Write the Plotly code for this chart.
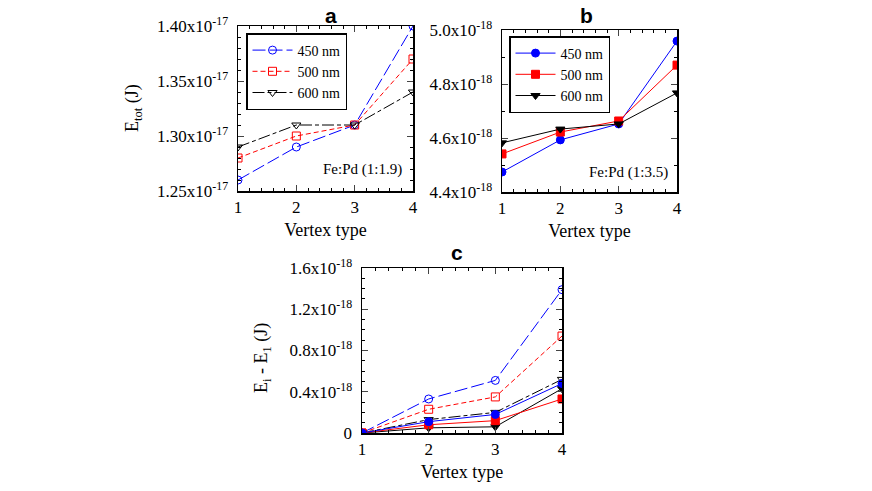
import plotly.graph_objects as go

vertex = [1, 2, 3, 4]
labels = ["450 nm", "500 nm", "600 nm"]

a_450 = [1.26e-17, 1.29e-17, 1.31e-17, 1.40e-17]
a_500 = [1.28e-17, 1.30e-17, 1.31e-17, 1.37e-17]
a_600 = [1.29e-17, 1.31e-17, 1.31e-17, 1.34e-17]

b_450 = [4.474e-18, 4.593e-18, 4.652e-18, 4.959e-18]
b_500 = [4.541e-18, 4.622e-18, 4.663e-18, 4.870e-18]
b_600 = [4.582e-18, 4.633e-18, 4.652e-18, 4.767e-18]

c_open_450 = [0, 0.33e-18, 0.51e-18, 1.39e-18]
c_open_500 = [0, 0.23e-18, 0.35e-18, 0.94e-18]
c_open_600 = [0, 0.13e-18, 0.20e-18, 0.52e-18]
c_fill_450 = [0, 0.11e-18, 0.18e-18, 0.48e-18]
c_fill_500 = [0, 0.08e-18, 0.12e-18, 0.33e-18]
c_fill_600 = [0, 0.05e-18, 0.06e-18, 0.43e-18]

a_ticks = [1.25e-17, 1.30e-17, 1.35e-17, 1.40e-17]
a_ticktext = ["1.25x10<sup>-17</sup>", "1.30x10<sup>-17</sup>", "1.35x10<sup>-17</sup>", "1.40x10<sup>-17</sup>"]
b_ticks = [4.4e-18, 4.6e-18, 4.8e-18, 5.0e-18]
b_ticktext = ["4.4x10<sup>-18</sup>", "4.6x10<sup>-18</sup>", "4.8x10<sup>-18</sup>", "5.0x10<sup>-18</sup>"]
c_ticks = [0, 0.4e-18, 0.8e-18, 1.2e-18, 1.6e-18]
c_ticktext = ["0", "0.4x10<sup>-18</sup>", "0.8x10<sup>-18</sup>", "1.2x10<sup>-18</sup>", "1.6x10<sup>-18</sup>"]

W, H = 872, 491
OFF = 0  # page body margin removed via post_script
SERIF = "Liberation Serif, Times New Roman, DejaVu Serif, serif"
SANS = "Liberation Sans, Arial, sans-serif"
BLUE, RED, BLACK = "#0000ff", "#ff0000", "#000000"
DASH_450 = "13px,4px"
DASH_500 = "5px,3px"
DASH_600 = "12px,3px,4px,3px"

def fx(p):
    return (p - OFF) / W

def fy(p):
    return 1 - (p - OFF) / H

def px_x(a, b):
    return [fx(a), fx(b)]

def px_y(top, bottom):
    return [fy(bottom), fy(top)]

fig = go.Figure()

def add(x, y, color, dash, symbol, name, xa, ya, legend=None, show=False, size=8):
    fig.add_trace(go.Scatter(
        x=x, y=y, mode="lines+markers", name=name,
        line=dict(color=color, width=1, dash=dash),
        marker=dict(symbol=symbol, size=size, color=color,
                    line=dict(color=color, width=1)),
        xaxis=xa, yaxis=ya, showlegend=show, legend=legend, cliponaxis=True))

# panel a (open markers, dashed)
add(vertex, a_450, BLUE, DASH_450, "circle-open", labels[0], "x", "y", "legend", True)
add(vertex, a_500, RED, DASH_500, "square-open", labels[1], "x", "y", "legend", True)
add(vertex, a_600, BLACK, DASH_600, "triangle-down-open", labels[2], "x", "y", "legend", True)
# panel b (filled, solid)
add(vertex, b_450, BLUE, "solid", "circle", labels[0], "x2", "y2", "legend2", True)
add(vertex, b_500, RED, "solid", "square", labels[1], "x2", "y2", "legend2", True)
add(vertex, b_600, BLACK, "solid", "triangle-down", labels[2], "x2", "y2", "legend2", True)
# panel c
add(vertex, c_open_450, BLUE, DASH_450, "circle-open", labels[0], "x3", "y3")
add(vertex, c_open_500, RED, DASH_500, "square-open", labels[1], "x3", "y3")
add(vertex, c_open_600, BLACK, DASH_600, "triangle-down-open", labels[2], "x3", "y3")
add(vertex, c_fill_600, BLACK, "solid", "triangle-down", labels[2], "x3", "y3")
add(vertex, c_fill_500, RED, "solid", "square", labels[1], "x3", "y3")
add(vertex, c_fill_450, BLUE, "solid", "circle", labels[0], "x3", "y3")

tickfont = dict(family=SERIF, size=17, color="black")

def xaxis(dom, anchor):
    return dict(domain=dom, anchor=anchor, range=[1, 4], tickvals=vertex,
                ticks="inside", ticklen=6, tickwidth=1, mirror="allticks",
                showline=True, linecolor="black", linewidth=1.5, showgrid=False,
                zeroline=False, tickfont=tickfont, automargin=False,
                minor=dict(dtick=0.2, ticks="inside", ticklen=3, tickcolor="black", showgrid=False),
                title=dict(text="Vertex type", font=dict(family=SERIF, size=18, color="black"), standoff=7))

def yaxis(dom, anchor, rng, tv, tt, mdt):
    return dict(domain=dom, anchor=anchor, range=rng, tickvals=tv, ticktext=tt,
                ticks="inside", ticklen=6, tickwidth=1, mirror="allticks",
                showline=True, linecolor="black", linewidth=1.5, showgrid=False,
                zeroline=False, tickfont=tickfont, automargin=False,
                ticklabelstandoff=5,
                minor=dict(dtick=mdt, tick0=rng[0], ticks="inside", ticklen=3, tickcolor="black", showgrid=False))

fig.update_layout(
    width=W, height=H, margin=dict(l=0, r=0, t=0, b=0),
    paper_bgcolor="white", plot_bgcolor="white",
    font=dict(family=SERIF, color="black"),
    xaxis=xaxis(px_x(238, 413), "y"),
    yaxis=yaxis(px_y(26, 191), "x", [1.25e-17, 1.40e-17], a_ticks, a_ticktext, 1e-19),
    xaxis2=xaxis(px_x(502, 677), "y2"),
    yaxis2=yaxis(px_y(30, 192), "x2", [4.4e-18, 5.0e-18], b_ticks, b_ticktext, 0.1e-18),
    xaxis3=xaxis(px_x(362, 562), "y3"),
    yaxis3=yaxis(px_y(268, 433), "x3", [0, 1.6e-18], c_ticks, c_ticktext, 0.1e-18),
    legend=dict(x=fx(246), y=fy(33), xanchor="left", yanchor="top",
                bordercolor="black", borderwidth=1.5, bgcolor="white",
                font=dict(family=SERIF, size=14, color="black"), tracegroupgap=0,
                itemwidth=40),
    legend2=dict(x=fx(509), y=fy(36), xanchor="left", yanchor="top",
                 bordercolor="black", borderwidth=1.5, bgcolor="white",
                 font=dict(family=SERIF, size=14, color="black"), tracegroupgap=0,
                 itemwidth=40),
    showlegend=True,
)

annos = [
    dict(text="<b>a</b>", x=fx(331), y=fy(15), font=dict(family=SANS, size=21)),
    dict(text="<b>b</b>", x=fx(586), y=fy(15), font=dict(family=SANS, size=21)),
    dict(text="<b>c</b>", x=fx(457), y=fy(253), font=dict(family=SANS, size=21)),
    dict(text="E<sub>tot</sub> (J)", x=fx(134), y=fy(108), textangle=-90,
         font=dict(family=SERIF, size=18)),
    dict(text="E<sub>i</sub> - E<sub>1</sub> (J)", x=fx(262), y=fy(358), textangle=-90,
         font=dict(family=SERIF, size=18)),
    dict(text="Fe:Pd (1:1.9)", x=fx(404), y=fy(169), xanchor="right",
         font=dict(family=SERIF, size=15)),
    dict(text="Fe:Pd (1:3.5)", x=fx(670), y=fy(172), xanchor="right",
         font=dict(family=SERIF, size=15)),
]
for a in annos:
    a.setdefault("xanchor", "center")
    a["font"]["color"] = "black"
    fig.add_annotation(xref="paper", yref="paper", showarrow=False, yanchor="middle", **a)

fig.write_html("out.html",
               config={"displayModeBar": False, "staticPlot": True},
               post_script="document.body.style.margin='0px';document.body.style.overflow='hidden';")
